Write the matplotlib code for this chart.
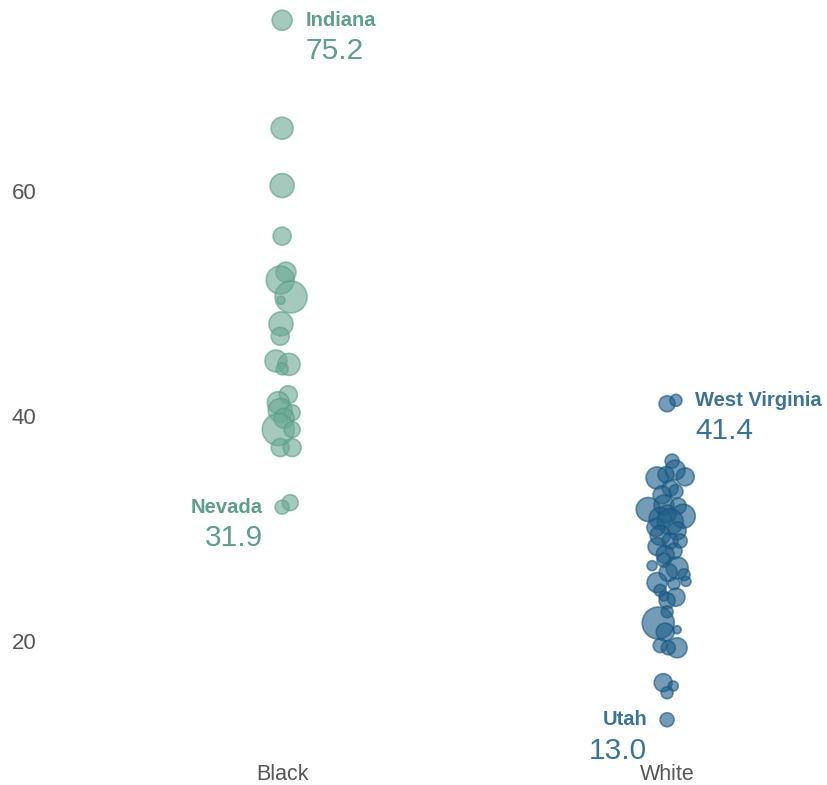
import matplotlib
matplotlib.use("Agg")
import matplotlib.pyplot as plt
import numpy as np

plt.rcParams['font.family'] = ['Liberation Sans', 'DejaVu Sans']

categories = ["Black", "White"]

# Black group: values, jitter (category units), relative population weight
black_values = [75.2, 65.6, 60.5, 56.0, 52.8, 52.1, 50.6, 50.3, 48.2, 47.1,
                44.9, 44.6, 44.2, 41.9, 41.2, 40.5, 40.3, 39.8, 38.8, 38.8,
                37.2, 37.2, 32.3, 31.9]
black_jitter = [0.000, 0.000, 0.000, 0.000, 0.010, -0.005, 0.023, -0.003, -0.003, -0.005,
                -0.016, 0.018, 0.000, 0.016, -0.010, -0.005, 0.026, 0.005, -0.010, 0.026,
                -0.005, 0.026, 0.021, 0.000]
black_weight = [100, 121, 144, 81, 100, 196, 256, 16, 144, 81,
                121, 121, 36, 81, 121, 144, 64, 100, 256, 64,
                81, 81, 64, 49]

white_values = [41.1, 41.4, 36.0, 35.2, 34.5, 34.6, 34.8, 33.6, 33.0, 33.3,
                31.7, 32.1, 32.0, 31.1, 31.3, 30.9, 30.6, 30.1, 29.8, 29.4,
                28.9, 28.9, 28.4, 28.0, 27.7, 27.2, 26.7, 26.5, 26.1, 25.9,
                25.2, 25.1, 25.3, 24.5, 24.0, 23.9, 23.6, 22.6, 21.6, 20.8,
                21.0, 19.6, 19.4, 19.4, 16.3, 16.0, 15.4, 13.0]
white_jitter = [0.000, 0.023, 0.013, 0.021, -0.026, 0.047, -0.003, 0.008, -0.013, 0.023,
                -0.049, -0.008, 0.029, 0.042, 0.000, -0.018, 0.008, -0.029, 0.026, -0.018,
                0.008, 0.034, -0.026, 0.018, -0.005, -0.008, -0.039, 0.026, 0.003, 0.044,
                -0.026, 0.018, 0.049, -0.018, -0.008, 0.023, 0.000, 0.000, -0.023, -0.005,
                0.026, -0.018, 0.026, 0.003, -0.010, 0.016, 0.000, 0.000]
white_weight = [64, 36, 49, 100, 121, 81, 64, 64, 81, 49,
                144, 100, 64, 144, 81, 121, 169, 81, 81, 100,
                64, 49, 81, 64, 81, 49, 25, 121, 81, 36,
                100, 36, 25, 36, 25, 81, 64, 36, 256, 81,
                16, 49, 100, 49, 81, 25, 36, 49]

y_ticks = [20, 40, 60]

# labelled states: (group index, state, value, label offset in category units)
labels = [(0, "Indiana", 75.2, 0.060), (0, "Nevada", 31.9, -0.050),
          (1, "West Virginia", 41.4, 0.073), (1, "Utah", 13.0, -0.052)]

green = "#6aa892"
green_edge = "#5a9c84"
blue = "#1f5f8a"
blue_edge = "#1a5680"
green_text = "#5f9e88"
blue_text = "#3b7395"

fig = plt.figure(figsize=(8.28, 7.85), dpi=100)
ax = fig.add_axes([45/828, 27/785, 783/828, 758/785])

size_k = 2.07
for gi, (vals, jit, w, fc, ec, a) in enumerate([
        (black_values, black_jitter, black_weight, green, green_edge, 0.6),
        (white_values, white_jitter, white_weight, blue, blue_edge, 0.62)]):
    x = gi + np.array(jit)
    ax.scatter(x, vals, s=np.array(w) * size_k, facecolor=fc, edgecolor=ec,
               alpha=a, linewidth=1.2, zorder=3)

for gi, name, val, off in labels:
    col = green_text if gi == 0 else blue_text
    xt = gi + off
    ha = "left" if off > 0 else "right"
    ax.text(xt, val, name, color=col, fontsize=14.5, fontweight="bold",
            ha=ha, va="center")
    ax.text(xt, val - 2.75, f"{val:.1f}", color=col, fontsize=21.5,
            ha=ha, va="center")

ax.set_xlim(-0.616, 1.418)
ax.set_ylim(9.6, 77.0)
ax.set_xticks([0, 1])
ax.set_xticklabels(categories)
ax.set_yticks(y_ticks)
ax.tick_params(axis="both", length=0, labelsize=16, labelcolor="#555555")
ax.tick_params(axis="y", pad=6)
ax.tick_params(axis="x", pad=4, labelsize=15.5)
for sp in ax.spines.values():
    sp.set_visible(False)

fig.savefig("out.png", dpi=100)
